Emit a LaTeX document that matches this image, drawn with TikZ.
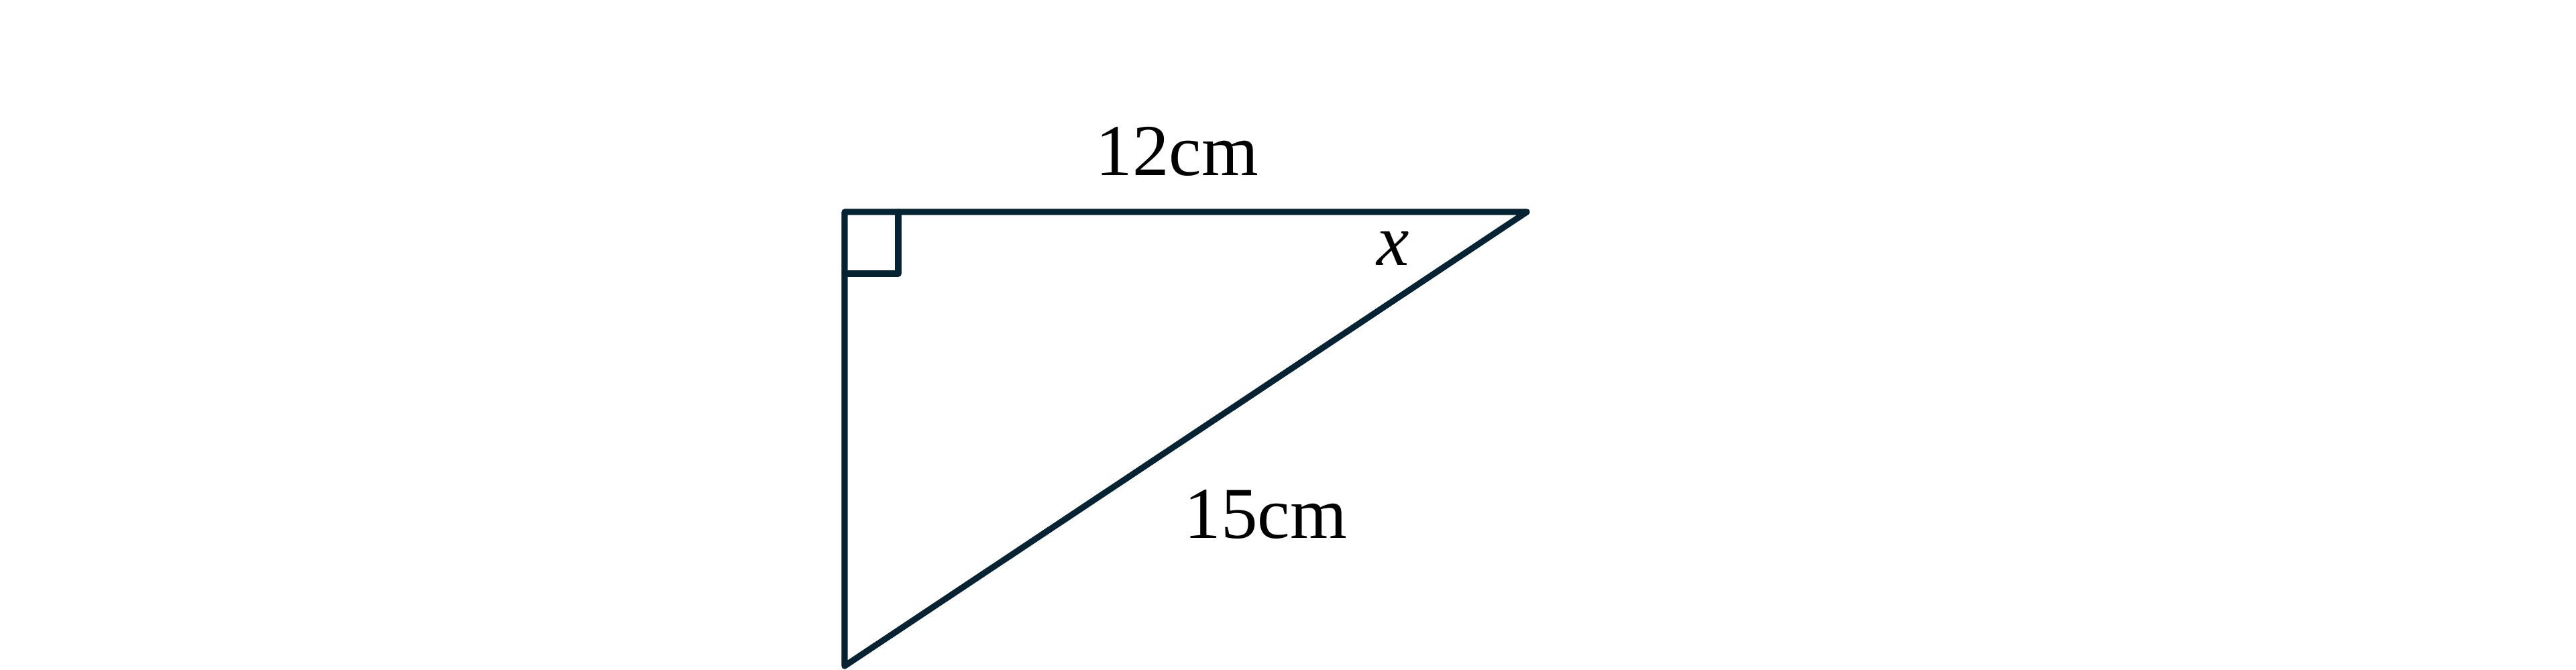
\documentclass[tikz,border=0pt]{standalone}
\usepackage{fontspec}
\setmainfont{Liberation Serif}
\definecolor{edge}{RGB}{5,35,50}
\tikzset{
  side/.style={draw=edge, line width=2.6pt, line join=round, line cap=round},
  lbl/.style={font=\fontsize{31}{36}\selectfont, text=black, inner sep=0pt, anchor=base}
}
\begin{document}
\begin{tikzpicture}
\useasboundingbox (0,0) rectangle (38.40,9.98);
\coordinate (A) at (12.59,6.82);
\coordinate (B) at (22.76,6.82);
\coordinate (C) at (12.59,0.05);
\coordinate (Ra) at (13.39,6.82);
\coordinate (Rb) at (13.39,5.90);
\coordinate (Rc) at (12.59,5.90);
\draw[side] (A) -- (B) -- (C) -- cycle;
\draw[side] (Ra) -- (Rb) -- (Rc);
\node[lbl] (top) at (17.55,7.36) {12cm};
\node[lbl] (hyp) at (18.87,1.96) {15cm};
\node[lbl] (ang) at (20.77,6.03) {\textit{x}};
\end{tikzpicture}
\end{document}
